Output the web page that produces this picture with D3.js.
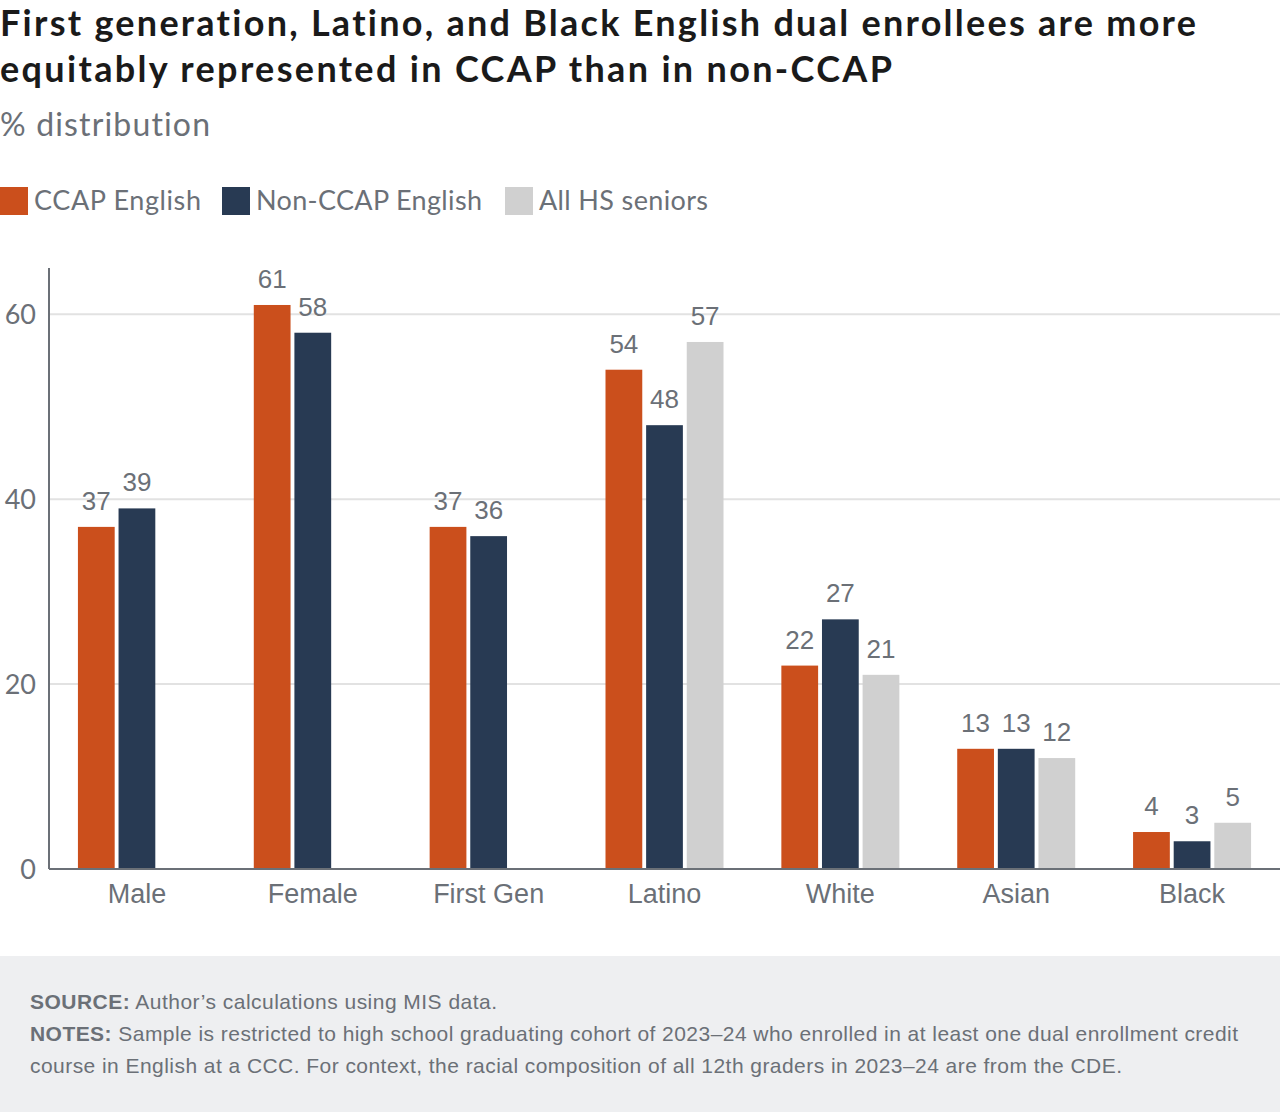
<!DOCTYPE html>
<html>
<head>
<meta charset="utf-8">
<script src="https://cdn.jsdelivr.net/npm/d3@7"></script>
<style>
  body { margin: 0; background: #fff; }
  svg { display: block; }
  text { font-variant-ligatures: none; }
</style>
</head>
<body>
<div id="chart"></div>
<script>
// data
var categories = ["Male", "Female", "First Gen", "Latino", "White", "Asian", "Black"];
var seriesNames = ["CCAP English", "Non-CCAP English", "All HS seniors"];
var ccapEnglish = [37, 61, 37, 54, 22, 13, 4];
var nonCcapEnglish = [39, 58, 36, 48, 27, 13, 3];
var allHsSeniors = [null, null, null, 57, 21, 12, 5];
var yTicks = [0, 20, 40, 60];

var colors = ["#cb4f1c", "#283a53", "#d0d0d0"];
var textGray = "#6b7077";
var proxima = "Lato, 'Open Sans', sans-serif";
var arial = "'Liberation Sans', Arial, sans-serif";

var width = 1280, height = 1112;
var margin = { left: 49, right: 0, top: 268, bottom: 869 };

var svg = d3.select("#chart")
  .append("svg")
  .attr("width", width)
  .attr("height", height);

// stretch a text's spacing to a measured width from the reference
function spread(sel, targetW) {
  sel.attr("textLength", targetW).attr("lengthAdjust", "spacing");
}

var title1 = svg.append("text")
  .attr("x", 0).attr("y", 36)
  .attr("font-family", proxima)
  .attr("font-weight", 700)
  .attr("font-size", 36)
  .attr("fill", "#1a1a1a")
  .text("First generation, Latino, and Black English dual enrollees are more");
spread(title1, 1196);

var title2 = svg.append("text")
  .attr("x", 0).attr("y", 82)
  .attr("font-family", proxima)
  .attr("font-weight", 700)
  .attr("font-size", 36)
  .attr("fill", "#1a1a1a")
  .text("equitably represented in CCAP than in non-CCAP");
spread(title2, 892);

var sub = svg.append("text")
  .attr("x", 0).attr("y", 136)
  .attr("font-family", proxima)
  .attr("font-size", 32)
  .attr("fill", textGray)
  .text("% distribution");
spread(sub, 210);

// legend
var legendX = [0, 222, 505];
var legendW = [167, 226, 169];
var legend = svg.append("g");
seriesNames.forEach(function(name, i) {
  legend.append("rect")
    .attr("x", legendX[i]).attr("y", 187)
    .attr("width", 28).attr("height", 28)
    .attr("fill", colors[i]);
  var t = legend.append("text")
    .attr("x", legendX[i] + 34).attr("y", 210)
    .attr("font-family", proxima)
    .attr("font-size", 27)
    .attr("fill", textGray)
    .text(name);
  spread(t, legendW[i]);
});

// scales
var x0 = d3.scaleBand()
  .domain(categories)
  .range([margin.left, width - margin.right])
  .paddingInner(0)
  .paddingOuter(0);

var x1 = d3.scaleBand()
  .domain(seriesNames)
  .range([0, 118])
  .paddingInner(0.095);

var y = d3.scaleLinear()
  .domain([0, 65])
  .range([margin.bottom, margin.top]);

// gridlines
svg.append("g")
  .selectAll("line")
  .data(yTicks.filter(function(d) { return d > 0; }))
  .enter()
  .append("line")
  .attr("x1", margin.left).attr("x2", width)
  .attr("y1", function(d) { return y(d); })
  .attr("y2", function(d) { return y(d); })
  .attr("stroke", "#e2e2e2")
  .attr("stroke-width", 2);

// y tick labels
svg.append("g")
  .selectAll("text")
  .data(yTicks)
  .enter()
  .append("text")
  .attr("x", 36)
  .attr("y", function(d) { return y(d) + 10; })
  .attr("text-anchor", "end")
  .attr("font-family", proxima)
  .attr("font-size", 27)
  .attr("fill", textGray)
  .text(function(d) { return d; });

// bars
var rows = categories.map(function(c, i) {
  return [ccapEnglish[i], nonCcapEnglish[i], allHsSeniors[i]].map(function(v, j) {
    return { cat: c, series: seriesNames[j], value: v, idx: j };
  }).filter(function(d) { return d.value != null; });
});

var groups = svg.append("g")
  .selectAll("g")
  .data(rows)
  .enter()
  .append("g")
  .attr("transform", function(d, i) {
    return "translate(" + (x0(categories[i]) + x0.bandwidth() / 2 - 59) + ",0)";
  });

groups.selectAll("rect")
  .data(function(d) { return d; })
  .enter()
  .append("rect")
  .attr("x", function(d) { return x1(d.series); })
  .attr("y", function(d) { return y(d.value); })
  .attr("width", x1.bandwidth())
  .attr("height", function(d) { return y(0) - y(d.value); })
  .attr("fill", function(d) { return colors[d.idx]; });

groups.selectAll("text")
  .data(function(d) { return d; })
  .enter()
  .append("text")
  .attr("x", function(d) { return x1(d.series) + x1.bandwidth() / 2; })
  .attr("y", function(d) { return y(d.value) - 17; })
  .attr("text-anchor", "middle")
  .attr("font-family", arial)
  .attr("font-size", 26)
  .attr("fill", textGray)
  .text(function(d) { return d.value; });

// axes lines
svg.append("line")
  .attr("x1", margin.left).attr("x2", margin.left)
  .attr("y1", margin.top).attr("y2", margin.bottom)
  .attr("stroke", textGray).attr("stroke-width", 2);

svg.append("line")
  .attr("x1", margin.left).attr("x2", width)
  .attr("y1", margin.bottom).attr("y2", margin.bottom)
  .attr("stroke", textGray).attr("stroke-width", 2);

// category labels
svg.append("g")
  .selectAll("text")
  .data(categories)
  .enter()
  .append("text")
  .attr("x", function(d) { return x0(d) + x0.bandwidth() / 2; })
  .attr("y", 903)
  .attr("text-anchor", "middle")
  .attr("font-family", arial)
  .attr("font-size", 27)
  .attr("fill", textGray)
  .text(function(d) { return d; });

// footer
svg.append("rect")
  .attr("x", 0).attr("y", 956)
  .attr("width", width).attr("height", height - 956)
  .attr("fill", "#eeeff1");

var footLines = [
  { bold: "SOURCE:", rest: " Author\u2019s calculations using MIS data.", w: 467 },
  { bold: "NOTES:", rest: " Sample is restricted to high school graduating cohort of 2023\u201324 who enrolled in at least one dual enrollment credit", w: 1208 },
  { bold: "", rest: "course in English at a CCC. For context, the racial composition of all 12th graders in 2023\u201324 are from the CDE.", w: 1092 }
];

footLines.forEach(function(l, i) {
  var t = svg.append("text")
    .attr("x", 30).attr("y", 1009 + i * 32)
    .attr("font-family", arial)
    .attr("font-size", 21)
    .attr("fill", textGray);
  if (l.bold) t.append("tspan").attr("font-weight", 700).text(l.bold);
  t.append("tspan").text(l.rest);
  spread(t, l.w);
});
</script>
</body>
</html>
